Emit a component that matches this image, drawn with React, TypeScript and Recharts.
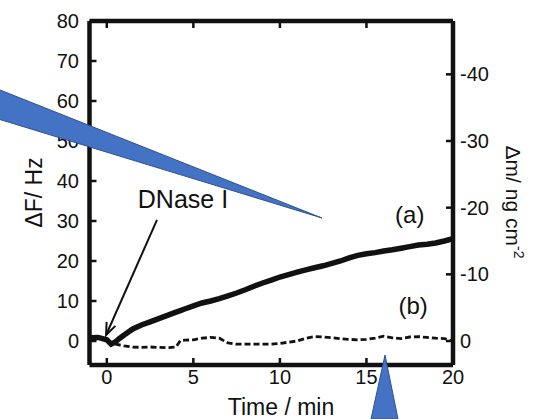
import { LineChart, Line, XAxis, YAxis, ReferenceLine, ReferenceDot } from "recharts";

// ΔF (Hz) vs temps (min) — (a) trait plein, (b) pointillé ; axe droit Δm = -0.6·ΔF
const TIME = [-1, -0.5, 0, 0.25, 0.5, 0.75, 1, 1.5, 2, 2.5, 3, 3.5, 4, 4.25, 4.5, 5, 5.5, 6, 6.5, 7, 7.5, 8, 8.5, 9, 9.5,
  10, 10.5, 11, 11.5, 12, 12.5, 13, 13.5, 14, 14.5, 15, 15.5, 16, 16.5, 17, 17.5, 18, 18.5, 19, 19.5, 20];
const CURVE_A = [0.8, 0.9, 0.3, -0.8, -0.2, 0.7, 1.5, 3.0, 4.0, 4.8, 5.6, 6.4, 7.2, 7.6, 8.0, 8.8, 9.5, 10.0, 10.6, 11.3, 12.0,
  12.8, 13.7, 14.5, 15.2, 16.0, 16.6, 17.2, 17.8, 18.3, 18.8, 19.4, 20.0, 20.8, 21.4, 21.8, 22.1, 22.5, 22.8, 23.2, 23.6,
  24.0, 24.2, 24.5, 25.0, 25.6];
const CURVE_B = [0.8, 0.9, 0.3, -0.6, -0.8, -1.0, -1.2, -1.5, -1.6, -1.5, -1.6, -1.7, -1.5, 0.1, 0.2, 0.3, 0.7, 0.9, 0.7, -0.5,
  -0.8, -0.8, -0.8, -0.8, -0.8, -0.6, -0.3, 0, 0.7, 1.1, 1.0, 0.8, 0.6, 0.4, 0.3, 0.4, 0.7, 1.2, 0.8, 0.6, 1.0, 1.1, 0.9,
  0.7, 0.6, 0.0];

const X_DOMAIN = [-1, 20];
const X_TICKS = [0, 5, 10, 15, 20];
const F_TICKS = [0, 10, 20, 30, 40, 50, 60, 70, 80];
const M_TICKS = [-40, -30, -20, -10, 0];
const F_DOMAIN = [-6, 80];
const M_DOMAIN = [-48, 3.6];

// annotations (coordonnées en unités de données)
const ARROW_FROM = { x: 2.9, y: 30.3 };
const ARROW_TO = { x: -0.04, y: 1.5 };
const NOTES = [
  { x: 4.4, y: 33.2, text: "DNase I", size: 25 },
  { x: 17.5, y: 29.4, text: "(a)", size: 24 },
  { x: 17.7, y: 6.8, text: "(b)", size: 24 },
];

const data = TIME.map((t, i) => ({ t, a: CURVE_A[i], b: CURVE_B[i] }));
const INK = "#111";
const FONT = "'Liberation Sans', Arial, sans-serif";
const tickStyle = { fill: INK, fontSize: 20, fontFamily: FONT };
const axisLine = { stroke: INK, strokeWidth: 4.5 };
const TL = 7; // graduations intérieures, px

const Arrow = (p: any) => {
  const { x1, y1, x2, y2 } = p;
  const ang = Math.atan2(y2 - y1, x2 - x1);
  const L = 13, s = 0.38;
  const a1 = [x2 - L * Math.cos(ang - s), y2 - L * Math.sin(ang - s)];
  const a2 = [x2 - L * Math.cos(ang + s), y2 - L * Math.sin(ang + s)];
  return (
    <g stroke={INK} strokeWidth={2} fill="none">
      <line x1={x1} y1={y1} x2={x2} y2={y2} />
      <polyline points={`${a1[0]},${a1[1]} ${x2},${y2} ${a2[0]},${a2[1]}`} />
    </g>
  );
};

// graduations tournées vers l'intérieur du cadre
const tick = (dx: number, dy: number) => (p: any) =>
  <line x1={p.cx} y1={p.cy} x2={p.cx + dx} y2={p.cy + dy} stroke={INK} strokeWidth={2.5} />;
const TickDown = tick(0, TL), TickUp = tick(0, -TL), TickRight = tick(TL, 0), TickLeft = tick(-TL, 0);

export default function App() {
  return (
    <div style={{ position: "absolute", left: 0, top: 0, width: 534, height: 419, background: "#fff", fontFamily: FONT, overflow: "hidden" }}>
      <LineChart width={534} height={419} data={data} margin={{ top: 21, right: 0, bottom: 0, left: 0 }}>
        <XAxis dataKey="t" type="number" domain={X_DOMAIN} ticks={X_TICKS} allowDataOverflow height={54}
               tick={tickStyle} tickLine={false} axisLine={axisLine} tickSize={0} tickMargin={5} />
        <YAxis yAxisId="f" domain={F_DOMAIN} ticks={F_TICKS} allowDataOverflow width={89.5}
               tick={tickStyle} tickLine={false} axisLine={axisLine} tickSize={0} tickMargin={10.5} />
        <YAxis yAxisId="m" orientation="right" reversed domain={M_DOMAIN} ticks={M_TICKS} allowDataOverflow width={81}
               tick={tickStyle} tickLine={false} axisLine={axisLine} tickSize={0} tickMargin={7} />
        <ReferenceLine yAxisId="f" y={F_DOMAIN[1]} stroke={INK} strokeWidth={4.5} ifOverflow="visible" />
        {X_TICKS.map((t) => (
          <ReferenceDot key={`top${t}`} yAxisId="f" x={t} y={F_DOMAIN[1]} r={1} ifOverflow="visible" shape={TickDown} />
        ))}
        {X_TICKS.map((t) => (
          <ReferenceDot key={`bot${t}`} yAxisId="f" x={t} y={F_DOMAIN[0]} r={1} ifOverflow="visible" shape={TickUp} />
        ))}
        {F_TICKS.map((v) => (
          <ReferenceDot key={`l${v}`} yAxisId="f" x={X_DOMAIN[0]} y={v} r={1} ifOverflow="visible" shape={TickRight} />
        ))}
        {M_TICKS.map((v) => (
          <ReferenceDot key={`r${v}`} yAxisId="m" x={X_DOMAIN[1]} y={v} r={1} ifOverflow="visible" shape={TickLeft} />
        ))}
        <Line yAxisId="f" dataKey="b" stroke={INK} strokeWidth={2.8} strokeDasharray="6 3" dot={false} type="linear" isAnimationActive={false} />
        <Line yAxisId="f" dataKey="a" stroke={INK} strokeWidth={5.5} dot={false} type="linear" isAnimationActive={false} />
        <ReferenceLine yAxisId="f" segment={[ARROW_FROM, ARROW_TO]} shape={Arrow} ifOverflow="visible" />
        {NOTES.map((n) => (
          <ReferenceDot key={n.text} yAxisId="f" x={n.x} y={n.y} r={0} ifOverflow="visible"
            shape={(p: any) => (
              <text x={p.cx} y={p.cy} textAnchor="middle" fontSize={n.size} fill={INK} fontFamily={FONT}>{n.text}</text>
            )} />
        ))}
      </LineChart>
      <svg width={534} height={419} style={{ position: "absolute", left: 0, top: 0, pointerEvents: "none" }}>
        <text x={42} y={192.5} transform="rotate(-90 42 192.5)" textAnchor="middle" fontSize={23} fill={INK} fontFamily={FONT}>ΔF/ Hz</text>
        <text x={506} y={202} transform="rotate(90 506 202)" textAnchor="middle" fontSize={21} fill={INK} fontFamily={FONT}>
          Δm/ ng cm<tspan dy={-8} fontSize={14}>-2</tspan>
        </text>
        <text x={281} y={415} textAnchor="middle" fontSize={23} fill={INK} fontFamily={FONT}>Time / min</text>
        <polygon points="-5,88 322,218 -5,118" fill="#4472C4" stroke="#2F528F" strokeWidth={1} />
        <polygon points="385,355 398,419 371,419" fill="#4472C4" stroke="#2F528F" strokeWidth={1} />
      </svg>
    </div>
  );
}
